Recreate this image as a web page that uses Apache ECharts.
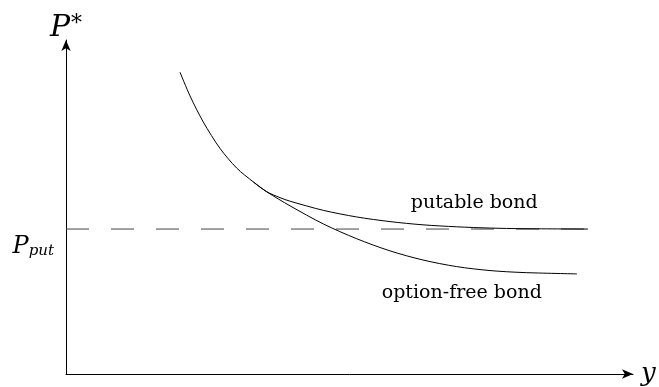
<!DOCTYPE html>
<html>
<head>
<meta charset="utf-8">
<script src="https://cdn.jsdelivr.net/npm/echarts@6/dist/echarts.min.js"></script>
<style>
  html, body { margin: 0; padding: 0; background: #fff; }
  #chart { width: 659px; height: 387px; }
</style>
</head>
<body>
<div id="chart"></div>
<script>
// Yield (x) and price (y) samples for the two price–yield curves
const optionFreeX = [20.11, 21.87, 24.22, 27.16, 30.11, 33.03, 35.40, 39.51, 45.38, 51.27, 57.14, 62.96, 68.91, 74.78, 80.60, 90.12];
const optionFreeY = [90.35, 83.27, 75.43, 67.55, 61.65, 57.52, 54.57, 50.35, 44.93, 40.50, 36.87, 34.13, 32.15, 30.97, 30.38, 29.97];
const putableX = [33.03, 35.40, 37.74, 39.51, 45.38, 51.27, 57.14, 62.96, 68.91, 74.78, 80.60, 92.06];
const putableY = [57.52, 54.57, 52.80, 51.74, 49.00, 47.02, 45.63, 44.66, 44.07, 43.69, 43.51, 43.40];
// Put price floor
const putPrice = 43.4;
const putLineX = [0, 92.06];
const curveNames = ['putable bond', 'option-free bond'];

const serif = 'DejaVu Serif';
const zip = (xs, ys) => xs.map((x, i) => [x, ys[i]]);

const chart = echarts.init(document.getElementById('chart'), null, { renderer: 'canvas' });

chart.setOption({
  animation: false,
  backgroundColor: '#fff',
  grid: { left: 66, right: 26, top: 40, bottom: 8, containLabel: false },
  xAxis: {
    type: 'value', min: 0, max: 100,
    name: 'y',
    nameLocation: 'end',
    nameGap: 8,
    nameTextStyle: { fontFamily: serif, fontStyle: 'italic', fontSize: 26, color: '#000', verticalAlign: 'middle' },
    axisLine: { show: true, symbol: ['none', 'arrow'], symbolSize: [7, 11], lineStyle: { color: '#000', width: 1 } },
    axisTick: { show: false }, axisLabel: { show: false }, splitLine: { show: false }
  },
  yAxis: {
    type: 'value', min: 0, max: 100,
    name: '{p|P}{s|*}',
    nameLocation: 'end',
    nameGap: -3,
    nameTextStyle: {
      rich: {
        p: { fontFamily: serif, fontStyle: 'italic', fontSize: 30, color: '#000' },
        s: { fontFamily: serif, fontSize: 22, color: '#000', verticalAlign: 'top', padding: [0, 0, 8, 1] }
      }
    },
    axisLine: { show: true, symbol: ['none', 'arrow'], symbolSize: [7, 11], lineStyle: { color: '#000', width: 1 } },
    axisTick: { show: false }, axisLabel: { show: false }, splitLine: { show: false }
  },
  series: [
    {
      name: 'put price',
      type: 'line',
      data: putLineX.map(x => [x, putPrice]),
      symbol: 'none',
      lineStyle: { color: '#444', width: 1, type: [23, 22] },
      silent: true
    },
    {
      name: curveNames[0],
      type: 'line',
      data: zip(putableX, putableY),
      symbol: 'none',
      smooth: 0.3,
      lineStyle: { color: '#000', width: 1 },
      silent: true
    },
    {
      name: curveNames[1],
      type: 'line',
      data: zip(optionFreeX, optionFreeY),
      symbol: 'none',
      smooth: 0.3,
      lineStyle: { color: '#000', width: 1 },
      silent: true
    }
  ]
});

// Curve captions and the put-price label, anchored in data coordinates
const at = (x, y) => chart.convertToPixel({ gridIndex: 0 }, [x, y]);
const putableLabel = at(72.0, 51.3);
const freeLabel = at(69.8, 24.2);
const putLeft = at(0, putPrice);

chart.setOption({
  graphic: [
    {
      type: 'text', x: putableLabel[0], y: putableLabel[1],
      style: { text: curveNames[0], font: '19px "DejaVu Serif"', fill: '#000', align: 'center', verticalAlign: 'middle' }
    },
    {
      type: 'text', x: freeLabel[0], y: freeLabel[1],
      style: { text: curveNames[1], font: '19px "DejaVu Serif"', fill: '#000', align: 'center', verticalAlign: 'middle' }
    },
    {
      type: 'text', x: putLeft[0] - 12, y: putLeft[1] + 18,
      style: {
        text: '{p|P}{s|put}',
        align: 'right', verticalAlign: 'middle',
        rich: {
          p: { fontFamily: serif, fontStyle: 'italic', fontSize: 24, fill: '#000' },
          s: { fontFamily: serif, fontStyle: 'italic', fontSize: 15, fill: '#000', verticalAlign: 'bottom', padding: [8, 0, 0, 0] }
        }
      }
    }
  ]
});
</script>
</body>
</html>
